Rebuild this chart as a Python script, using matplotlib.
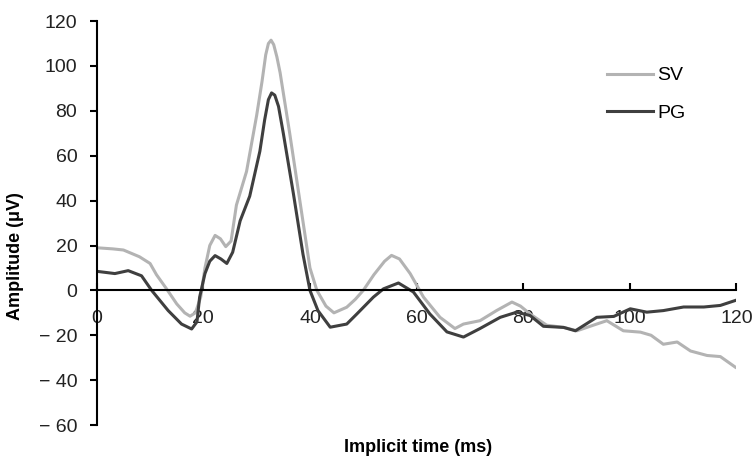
import numpy as np
import matplotlib
matplotlib.use('Agg')
import matplotlib.pyplot as plt

plt.rcParams['font.family'] = ['Liberation Sans Narrow', 'Liberation Sans', 'DejaVu Sans']

# SV (light grey) trace
sv_t = [0, 3, 5, 8, 10, 11.2, 13, 15, 16.5, 17.5, 18.5, 19.5, 20.3, 21.2, 22.2, 23.2, 24.2, 25.2,
        26.2, 28.1, 30, 31, 31.7, 32.2, 32.7, 33.2, 33.8, 34.4, 36.2, 38.1, 40, 41.3, 43, 44.5,
        46.9, 48.5, 50, 52, 54, 55.3, 56.8, 58.8, 61.3, 64.4, 67.2, 68.8, 71.9, 75, 77.9, 79.5,
        81.3, 84.4, 87.6, 90.1, 93.8, 95.7, 98.8, 102, 104, 106.3, 108.9, 111.4, 114.5, 117, 119.8]
sv_v = [19, 18.5, 18, 15, 12, 7, 1, -6, -10, -11.5, -10, -3, 10, 20, 24.5, 23, 19.5, 22,
        38, 53, 78, 93, 105, 110, 111.5, 109.5, 104, 97, 70, 40, 10, 0, -7, -10,
        -7.5, -4, 0, 7, 13, 15.6, 14, 7.5, -3, -12, -17, -15, -13.5, -9, -5.2, -7,
        -10.5, -15.5, -16.5, -18, -15, -13.5, -18, -18.6, -20, -24, -23, -27, -29, -29.5, -34.2]

# PG (dark grey) trace
pg_t = [0, 3.4, 5.9, 8.4, 10.3, 13.4, 15.9, 17.8, 18.8, 19.3, 20.3, 21.2, 22.2, 23.3, 24.4,
        25.5, 26.9, 28.7, 30.6, 31.5, 32.2, 32.8, 33.4, 34.1, 35, 36.9, 38.7, 40, 41.5, 43.8,
        46.9, 48.8, 51.9, 53.8, 56.6, 59.4, 62.5, 65.7, 68.8, 71.9, 75.7, 78.8, 81.3, 83.8,
        87.6, 89.8, 93.8, 97, 100.1, 103.2, 106.3, 110.1, 113.9, 117, 119.8]
pg_v = [8.5, 7.5, 8.8, 6.5, 0, -9, -15, -17.2, -14, -3, 7.5, 13, 15.5, 14, 12,
        17, 31, 42, 62, 76, 85, 88, 87, 82, 70, 43, 16, 0, -9, -16.4,
        -15, -10.5, -3, 0.7, 3.3, -0.7, -10.5, -18.5, -20.8, -17, -12, -9.7, -11.2, -16,
        -16.5, -18, -12, -11.6, -8.2, -9.7, -9, -7.4, -7.4, -6.7, -4.5]

xticks = [0, 20, 40, 60, 80, 100, 120]
yticks = [-60, -40, -20, 0, 20, 40, 60, 80, 100, 120]

fig = plt.figure(figsize=(7.56, 4.59), dpi=100)
ax = fig.add_axes([0.128, 0.074, 0.846, 0.880])

ax.plot(sv_t, sv_v, color='#b3b3b3', lw=2.2, label='SV')
ax.plot(pg_t, pg_v, color='#3f3f3f', lw=2.2, label='PG')

ax.set_xlim(0, 120)
ax.set_ylim(-60, 120)
ax.set_xticks(xticks)
ax.set_yticks(yticks)
ax.set_yticklabels([str(v).replace('-', '\u2212 ') for v in yticks])

ax.spines['top'].set_visible(False)
ax.spines['right'].set_visible(False)
ax.spines['bottom'].set_position(('data', 0))
ax.spines['left'].set_linewidth(1.5)
ax.spines['bottom'].set_linewidth(1.5)

ax.tick_params(axis='x', direction='in', length=5, width=1.5, pad=14, labelsize=14)
ax.tick_params(axis='y', direction='out', length=5, width=1.5, pad=9, labelsize=14)
for lab in ax.get_xticklabels() + ax.get_yticklabels():
    lab.set_color('#222222')

ax.set_xlabel('Implicit time (ms)', fontsize=13, fontweight='bold', family=['Liberation Sans', 'DejaVu Sans'])
ax.set_ylabel('Amplitude (\u03bcV)', fontsize=13, fontweight='bold', family=['Liberation Sans', 'DejaVu Sans'])
ax.xaxis.set_label_coords(0.502, -0.035)
ax.yaxis.set_label_coords(-0.113, 0.418)

ax.legend(loc='upper left', bbox_to_anchor=(0.77, 0.93), frameon=False, fontsize=14,
          handlelength=2.4, handletextpad=0.2, labelspacing=1.0)

fig.savefig('out.png', dpi=100)
